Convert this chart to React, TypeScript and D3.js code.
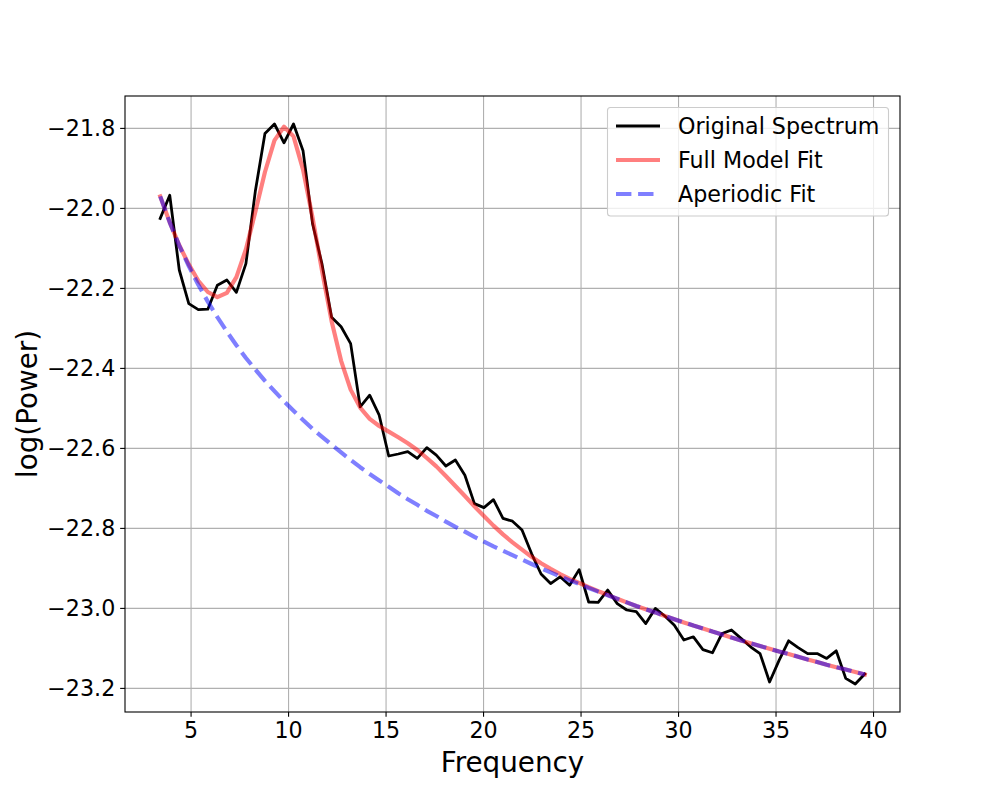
import React from "react";
import * as d3 from "d3";

// Frequencies (Hz), 0.488 Hz resolution
const freqs = [
  3.418, 3.906, 4.395, 4.883, 5.371, 5.859, 6.348, 6.836, 7.324, 7.813,
  8.301, 8.789, 9.277, 9.766, 10.254, 10.742, 11.230, 11.719, 12.207, 12.695,
  13.184, 13.672, 14.160, 14.648, 15.137, 15.625, 16.113, 16.602, 17.090, 17.578,
  18.066, 18.555, 19.043, 19.531, 20.020, 20.508, 20.996, 21.484, 21.973, 22.461,
  22.949, 23.438, 23.926, 24.414, 24.902, 25.391, 25.879, 26.367, 26.855, 27.344,
  27.832, 28.320, 28.809, 29.297, 29.785, 30.273, 30.762, 31.250, 31.738, 32.227,
  32.715, 33.203, 33.691, 34.180, 34.668, 35.156, 35.645, 36.133, 36.621, 37.109,
  37.598, 38.086, 38.574, 39.063, 39.551,
];

// Original spectrum, log10 power
const originalSpectrum = [
  -22.025, -21.967, -22.154, -22.238, -22.253, -22.252, -22.192, -22.179, -22.210, -22.138,
  -21.955, -21.813, -21.789, -21.836, -21.789, -21.856, -22.038, -22.140, -22.272, -22.296,
  -22.338, -22.496, -22.467, -22.517, -22.619, -22.614, -22.608, -22.625, -22.598, -22.617,
  -22.644, -22.629, -22.667, -22.738, -22.748, -22.728, -22.775, -22.782, -22.804, -22.863,
  -22.914, -22.938, -22.921, -22.942, -22.903, -22.984, -22.985, -22.954, -22.988, -23.004,
  -23.008, -23.038, -23.000, -23.019, -23.042, -23.079, -23.071, -23.103, -23.111, -23.063,
  -23.054, -23.075, -23.096, -23.113, -23.184, -23.130, -23.081, -23.098, -23.113, -23.113,
  -23.125, -23.106, -23.175, -23.189, -23.164,
];

// Full model fit
const fullModelFit = [
  -21.970, -22.035, -22.092, -22.140, -22.181, -22.209, -22.222, -22.211, -22.172, -22.102,
  -22.008, -21.909, -21.830, -21.796, -21.820, -21.903, -22.023, -22.157, -22.282, -22.381,
  -22.453, -22.498, -22.526, -22.544, -22.558, -22.572, -22.587, -22.604, -22.624, -22.645,
  -22.669, -22.694, -22.719, -22.745, -22.769, -22.793, -22.815, -22.835, -22.853, -22.871,
  -22.887, -22.901, -22.914, -22.926, -22.936, -22.947, -22.957, -22.966, -22.976, -22.985,
  -22.994, -23.002, -23.010, -23.019, -23.027, -23.035, -23.043, -23.050, -23.058, -23.065,
  -23.073, -23.080, -23.087, -23.094, -23.101, -23.108, -23.114, -23.121, -23.128, -23.134,
  -23.141, -23.147, -23.153, -23.159, -23.165,
];

// Aperiodic fit
const aperiodicFit = [
  -21.970, -22.035, -22.093, -22.144, -22.191, -22.233, -22.272, -22.308, -22.342, -22.374,
  -22.403, -22.431, -22.457, -22.482, -22.506, -22.529, -22.551, -22.571, -22.591, -22.610,
  -22.629, -22.647, -22.664, -22.680, -22.696, -22.712, -22.727, -22.741, -22.756, -22.769,
  -22.783, -22.796, -22.808, -22.821, -22.833, -22.845, -22.856, -22.867, -22.878, -22.889,
  -22.900, -22.910, -22.920, -22.930, -22.939, -22.949, -22.958, -22.967, -22.976, -22.985,
  -22.994, -23.002, -23.010, -23.019, -23.027, -23.035, -23.043, -23.050, -23.058, -23.065,
  -23.073, -23.080, -23.087, -23.094, -23.101, -23.108, -23.114, -23.121, -23.128, -23.134,
  -23.141, -23.147, -23.153, -23.159, -23.165,
];

const xTicks = [5, 10, 15, 20, 25, 30, 35, 40];
const yTicks = [-21.8, -22.0, -22.2, -22.4, -22.6, -22.8, -23.0, -23.2];
const legendLabels = ["Original Spectrum", "Full Model Fit", "Aperiodic Fit"];

const W = 1000;
const H = 800;
const L = 125, R = 900, T = 96, B = 712;
const FONT = "DejaVu Sans, sans-serif";
const TICK_FS = 22.2;
const LABEL_FS = 27.8;
const LEGEND_FS = 22.2;

export default function App() {
  const [x0, x1] = d3.extent(freqs) as [number, number];
  const allY = [...originalSpectrum, ...fullModelFit, ...aperiodicFit];
  const [y0, y1] = d3.extent(allY) as [number, number];
  const xm = (x1 - x0) * 0.05;
  const ym = (y1 - y0) * 0.05;
  const x = d3.scaleLinear().domain([x0 - xm, x1 + xm]).range([L, R]);
  const y = d3.scaleLinear().domain([y0 - ym, y1 + ym]).range([B, T]);

  const line = (vals: number[]) =>
    d3.line<number>().x((_, i) => x(freqs[i])).y((v) => y(v))(vals) || "";

  const fmt = (v: number) => (v < 0 ? "\u2212" + Math.abs(v).toFixed(1) : v.toFixed(1));

  const tickLen = 4.86;
  const pad = 4.86;

  const legendX = 607.5, legendY = 107.5, legendW = 281, legendH = 108.5;
  const rowY = [126, 160, 194];

  return (
    <svg width={W} height={H} style={{ display: "block", position: "absolute", left: 0, top: 0 }} fontFamily={FONT}>
      <rect x={0} y={0} width={W} height={H} fill="#ffffff" />
      <defs>
        <clipPath id="plotclip">
          <rect x={L} y={T} width={R - L} height={B - T} />
        </clipPath>
      </defs>
      {/* grid */}
      <g stroke="#b0b0b0" strokeWidth={1.1}>
        {xTicks.map((t) => (
          <line key={"gx" + t} x1={x(t)} x2={x(t)} y1={T} y2={B} />
        ))}
        {yTicks.map((t) => (
          <line key={"gy" + t} x1={L} x2={R} y1={y(t)} y2={y(t)} />
        ))}
      </g>
      {/* lines */}
      <g clipPath="url(#plotclip)" fill="none" strokeLinejoin="round">
        <path d={line(originalSpectrum)} stroke="#000000" strokeWidth={2.78} strokeLinecap="square" />
        <path d={line(fullModelFit)} stroke="rgba(255,0,0,0.5)" strokeWidth={4.17} strokeLinecap="square" />
        <path d={line(aperiodicFit)} stroke="rgba(0,0,255,0.5)" strokeWidth={4.17} strokeDasharray="15.4 6.7" strokeLinecap="butt" />
      </g>
      {/* spines */}
      <rect x={L} y={T} width={R - L} height={B - T} fill="none" stroke="#000" strokeWidth={1.1} />
      {/* x ticks */}
      <g>
        {xTicks.map((t) => (
          <g key={"xt" + t}>
            <line x1={x(t)} x2={x(t)} y1={B} y2={B + tickLen} stroke="#000" strokeWidth={1.1} />
            <text x={x(t)} y={B + tickLen + pad + TICK_FS * 0.73} textAnchor="middle" fontSize={TICK_FS} fill="#000">
              {t}
            </text>
          </g>
        ))}
      </g>
      {/* y ticks */}
      <g>
        {yTicks.map((t) => (
          <g key={"yt" + t}>
            <line x1={L - tickLen} x2={L} y1={y(t)} y2={y(t)} stroke="#000" strokeWidth={1.1} />
            <text x={L - tickLen - pad} y={y(t) + TICK_FS * 0.36} textAnchor="end" fontSize={TICK_FS} fill="#000">
              {fmt(t)}
            </text>
          </g>
        ))}
      </g>
      {/* axis labels */}
      <text x={(L + R) / 2} y={772} textAnchor="middle" fontSize={LABEL_FS} fill="#000">
        Frequency
      </text>
      <text
        transform={`translate(${37},${(T + B) / 2}) rotate(-90)`}
        textAnchor="middle"
        fontSize={LABEL_FS}
        fill="#000"
      >
        log(Power)
      </text>
      {/* legend */}
      <g>
        <rect x={legendX} y={legendY} width={legendW} height={legendH} rx={3} ry={3}
          fill="rgba(255,255,255,0.8)" stroke="#cccccc" strokeWidth={1.1} />
        <line x1={616} x2={660} y1={rowY[0]} y2={rowY[0]} stroke="#000" strokeWidth={2.78} />
        <line x1={616} x2={660} y1={rowY[1]} y2={rowY[1]} stroke="rgba(255,0,0,0.5)" strokeWidth={4.17} />
        <line x1={616} x2={660} y1={rowY[2]} y2={rowY[2]} stroke="rgba(0,0,255,0.5)" strokeWidth={4.17} strokeDasharray="15.4 6.7" />
        {legendLabels.map((lab, i) => (
          <text key={lab} x={678} y={rowY[i] + LEGEND_FS * 0.36} fontSize={LEGEND_FS} fill="#000">
            {lab}
          </text>
        ))}
      </g>
    </svg>
  );
}
